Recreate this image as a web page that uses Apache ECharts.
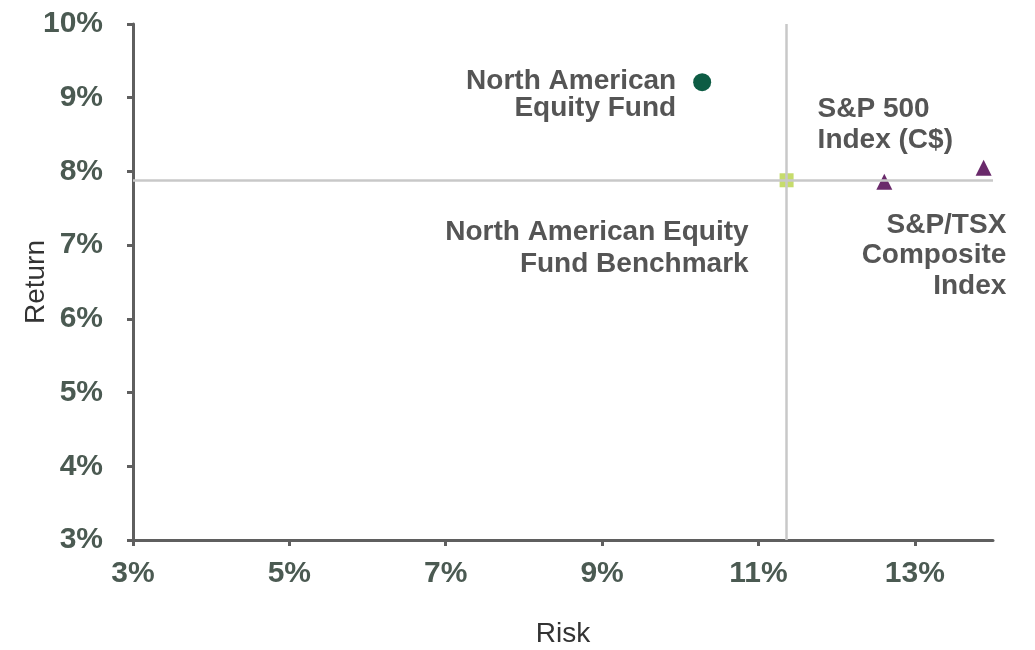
<!DOCTYPE html>
<html>
<head>
<meta charset="utf-8">
<script src="https://cdn.jsdelivr.net/npm/echarts@6/dist/echarts.min.js"></script>
<style>
  html, body { margin: 0; padding: 0; background: #fff; }
  #chart { width: 1035px; height: 650px; }
</style>
</head>
<body>
<div id="chart"></div>
<script>
// risk / return of each holding (in %)
const names = [
  'North American\nEquity Fund',
  'North American Equity\nFund Benchmark',
  'S&P/TSX\nComposite\nIndex',
  'S&P 500\nIndex (C$)'
];
const risk = [10.28, 11.36, 12.61, 13.88];
const ret = [9.21, 7.88, 7.86, 8.05];
const xTicks = [3, 5, 7, 9, 11, 13];
const yTicks = [3, 4, 5, 6, 7, 8, 9, 10];

// marker + label look for each point
const looks = [
  { symbol: 'circle', size: 18, color: '#0d5c44', align: 'right', offset: [-26, 13], lh: 27 },
  { symbol: 'rect', size: 14, color: '#c6dc6c', align: 'right', offset: [-38, 68], lh: 32 },
  { symbol: 'triangle', size: 16, color: '#6a2a6b', align: 'right', offset: [122, 74], lh: 30.5 },
  { symbol: 'triangle', size: 16, color: '#6a2a6b', align: 'left', offset: [-166, -43], lh: 31 }
];

const tickFont = { color: '#4b5a52', fontSize: 30, fontWeight: 'bold', fontFamily: 'Liberation Sans' };
const nameFont = { color: '#333333', fontSize: 28, fontFamily: 'Liberation Sans' };
const axisLine = { show: true, lineStyle: { color: '#5f5f5f', width: 3 } };
const axisTick = { show: true, length: 6, lineStyle: { color: '#5f5f5f', width: 3 } };

const points = names.map((n, i) => ({
  name: n,
  value: [risk[i], ret[i]],
  symbol: looks[i].symbol,
  symbolSize: looks[i].size,
  itemStyle: { color: looks[i].color, opacity: 1 },
  label: {
    show: true,
    position: 'inside',
    formatter: '{b}',
    align: looks[i].align,
    verticalAlign: 'middle',
    offset: looks[i].offset,
    lineHeight: looks[i].lh,
    color: '#555555',
    fontSize: 28,
    fontWeight: 'bold',
    fontFamily: 'Liberation Sans'
  }
}));

const chart = echarts.init(document.getElementById('chart'));
chart.setOption({
  animation: false,
  grid: { left: 133, right: 42, top: 24, bottom: 110, outerBoundsMode: 'none' },
  xAxis: {
    type: 'value',
    min: 3,
    max: 14,
    name: 'Risk',
    nameLocation: 'middle',
    nameGap: 80,
    nameMoveOverlap: false,
    nameTextStyle: nameFont,
    splitLine: { show: false },
    axisLine: axisLine,
    axisTick: Object.assign({ customValues: xTicks }, axisTick),
    axisLabel: Object.assign({ customValues: xTicks, formatter: '{value}%', margin: 19 }, tickFont)
  },
  yAxis: {
    type: 'value',
    min: 3,
    max: 10,
    interval: 1,
    name: 'Return',
    nameLocation: 'middle',
    nameGap: 83,
    nameMoveOverlap: false,
    nameTextStyle: nameFont,
    splitLine: { show: false },
    axisLine: axisLine,
    axisTick: Object.assign({ customValues: yTicks }, axisTick),
    axisLabel: Object.assign({ customValues: yTicks, formatter: '{value}%', margin: 30 }, tickFont)
  },
  series: [
    {
      type: 'scatter',
      data: points,
      z: 3,
      markLine: {
        silent: true,
        symbol: 'none',
        label: { show: false },
        lineStyle: { color: '#c8c8c8', width: 2.5, type: 'solid' },
        data: [{ xAxis: risk[1] }, { yAxis: ret[1] }]
      }
    }
  ]
});
</script>
</body>
</html>
